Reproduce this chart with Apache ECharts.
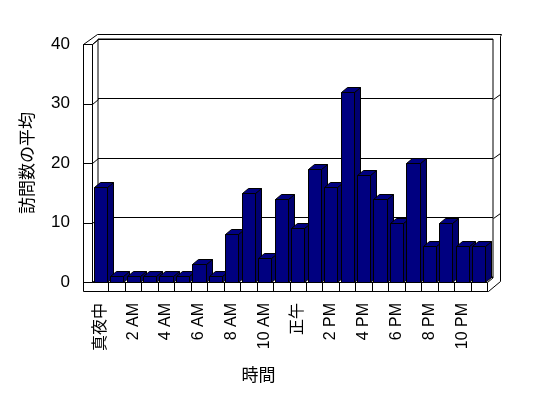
<!DOCTYPE html>
<html>
<head>
<meta charset="utf-8">
<script src="https://cdn.jsdelivr.net/npm/echarts@6/dist/echarts.min.js"></script>
<style>
  html, body { margin: 0; padding: 0; background: #fff; }
  #chart { width: 548px; height: 398px; }
</style>
</head>
<body>
<div id="chart"></div>
<script>
// 時間ごとの訪問数の平均
const hours = [
  "真夜中", "1 AM", "2 AM", "3 AM", "4 AM", "5 AM", "6 AM", "7 AM", "8 AM", "9 AM", "10 AM", "11 AM",
  "正午", "1 PM", "2 PM", "3 PM", "4 PM", "5 PM", "6 PM", "7 PM", "8 PM", "9 PM", "10 PM", "11 PM"
]
const visits = [16, 1, 1, 1, 1, 1, 3, 1, 8, 15, 4, 14, 9, 19, 16, 32, 18, 14, 10, 20, 6, 10, 6, 6]
const yTicks = [0, 10, 20, 30, 40]

const FONT = "'Liberation Sans', 'Noto Sans CJK JP', sans-serif"
const NAVY = "#000080"
const DX = 6, DY = 5, T = 9   // 奥行きと壁の厚さ

const px = (v) => Math.round(v) + 0.5

const myChart = echarts.init(document.getElementById("chart"))

// 床・壁の枠
function renderFrame(params, api) {
  const cs = params.coordSys
  const x = cs.x, y = cs.y, w = cs.width, h = cs.height
  const line = { stroke: "#000", lineWidth: 1, fill: null }
  const pl = (pts) => ({ type: "polyline", shape: { points: pts.map(p => [px(p[0]), px(p[1])]) }, style: line })
  const bw = api.size([1, 0])[0]
  const children = [
    pl([[x - T, y], [x - T, y + h + T], [x + w + 1, y + h + T]]),
    pl([[x, y], [x, y + h], [x + w, y + h], [x + w, y + h + T]]),
    pl([[x - T, y], [x, y]]),
    pl([[x - T, y], [x + DX - 1, y - 2 * DY], [x + w + DX + 8, y - 2 * DY], [x + w + DX + 7, y - 2 * DY + 2],
        [x + w + DX + 7, y + h - 1], [x + w + 1, y + h + T]]),
    pl([[x, y], [x + DX, y - DY]]),
    pl([[x + w, y + h], [x + w + DX, y + h - DY]])
  ]
  for (let i = 1; i < hours.length; i++) {
    children.push(pl([[x + i * bw, y + h], [x + i * bw, y + h + T]]))
  }
  yTicks.forEach((v) => {
    const p = api.coord([0, v])
    children.push(pl([[x - T, p[1]], [x, p[1]], [x + DX, p[1] - DY]]))
    if (v > 0 && v < 40) {
      children.push(pl([[x + w + DX, p[1] - DY], [x + w + DX + 7, p[1] - DY - 5]]))
    }
  })
  return { type: "group", children }
}

// 立体の棒
function renderBar(params, api) {
  const top = api.coord([api.value(0), api.value(1)])
  const base = api.coord([api.value(0), 0])
  const w = api.size([1, 0])[0] * 0.8
  const x1 = px(top[0] - w / 2), x2 = px(top[0] + w / 2)
  const yt = px(top[1]), yb = px(base[1])
  const style = { fill: NAVY, stroke: "#000", lineWidth: 1 }
  return {
    type: "group",
    children: [
      { type: "polygon", shape: { points: [[x2, yt], [x2 + DX, yt - DY], [x2 + DX, yb - DY], [x2, yb]] }, style: { ...style, fill: "#000070" } },
      { type: "polygon", shape: { points: [[x1, yt], [x1 + DX, yt - DY], [x2 + DX, yt - DY], [x2, yt]] }, style },
      { type: "rect", shape: { x: x1, y: yt, width: x2 - x1, height: yb - yt }, style }
    ]
  }
}

const option = {
  animation: false,
  backgroundColor: "#fff",
  textStyle: { fontFamily: FONT },
  grid: [
    { left: 92, right: 61, top: 44, bottom: 116 },
    { left: 98, right: 55, top: 39, bottom: 121, show: true, borderColor: "#000", borderWidth: 1, backgroundColor: "#fff" }
  ],
  xAxis: [
    {
      gridIndex: 0, type: "category", data: hours,
      name: "時間", nameLocation: "middle", nameGap: 86,
      nameTextStyle: { color: "#000", fontSize: 17, fontFamily: FONT, padding: [0, 62, 0, 0] },
      axisLine: { show: false }, axisTick: { show: false },
      axisLabel: { interval: 1, rotate: 90, margin: 21, color: "#000", fontSize: 16, fontFamily: FONT }
    },
    { gridIndex: 1, type: "category", data: hours, show: false }
  ],
  yAxis: [
    {
      gridIndex: 0, type: "value", min: 0, max: 40, interval: 10,
      name: "訪問数の平均", nameLocation: "middle", nameGap: 55,
      nameTextStyle: { color: "#000", fontSize: 17, fontFamily: FONT },
      axisLine: { show: false }, axisTick: { show: false }, splitLine: { show: false },
      axisLabel: { margin: 22, color: "#000", fontSize: 17, fontFamily: FONT }
    },
    {
      gridIndex: 1, type: "value", min: 0, max: 40, interval: 10,
      axisLine: { show: false }, axisTick: { show: false }, axisLabel: { show: false },
      splitLine: { show: true, lineStyle: { color: "#000", width: 1 } }
    }
  ],
  series: [
    {
      type: "custom", xAxisIndex: 0, yAxisIndex: 0, clip: false, silent: true,
      renderItem: renderFrame, data: [[0, 0]], z: 2
    },
    {
      type: "custom", xAxisIndex: 0, yAxisIndex: 0, clip: false,
      renderItem: renderBar, encode: { x: 0, y: 1 },
      data: visits.map((v, i) => [i, v]), z: 3
    }
  ]
}

myChart.setOption(option)
</script>
</body>
</html>
